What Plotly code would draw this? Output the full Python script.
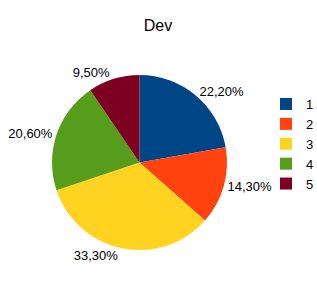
import plotly.graph_objects as go

categories = ["1", "2", "3", "4", "5"]
values = [22.2, 14.3, 33.3, 20.6, 9.5]
colors = ["#004586", "#ff420e", "#ffd320", "#579d1c", "#7e0021"]

W, H = 317, 288
fig = go.Figure(go.Pie(
    labels=categories,
    values=values,
    sort=False,
    direction="clockwise",
    rotation=0,
    marker=dict(colors=colors, line=dict(width=0)),
    textposition="outside",
    texttemplate="%{value:.2f}%",
    textfont=dict(family="Liberation Sans", size=13, color="#000000"),
    hoverinfo="label+value",
    domain=dict(x=[52 / W, 227 / W], y=[1 - 250 / H, 1 - 75 / H]),
))

fig.update_layout(
    width=W, height=H,
    separators=",.",
    margin=dict(l=0, r=0, t=0, b=0, autoexpand=False),
    paper_bgcolor="white",
    plot_bgcolor="white",
    font=dict(family="Liberation Sans", size=13, color="#000000"),
    title=dict(text="Dev", x=158 / W, xanchor="center", y=1 - 25 / H, yanchor="middle",
               font=dict(family="Liberation Sans", size=16, color="#000000")),
    legend=dict(x=266 / W, xanchor="left", y=1 - 89 / H, yanchor="top",
                font=dict(family="Liberation Sans", size=13), tracegroupgap=0,
                itemwidth=30, bgcolor="rgba(0,0,0,0)"),
    showlegend=True,
)

fig.write_html(
    "out.html",
    config={"displayModeBar": False},
    post_script="document.body.style.margin='0';document.body.style.overflow='hidden';",
)
